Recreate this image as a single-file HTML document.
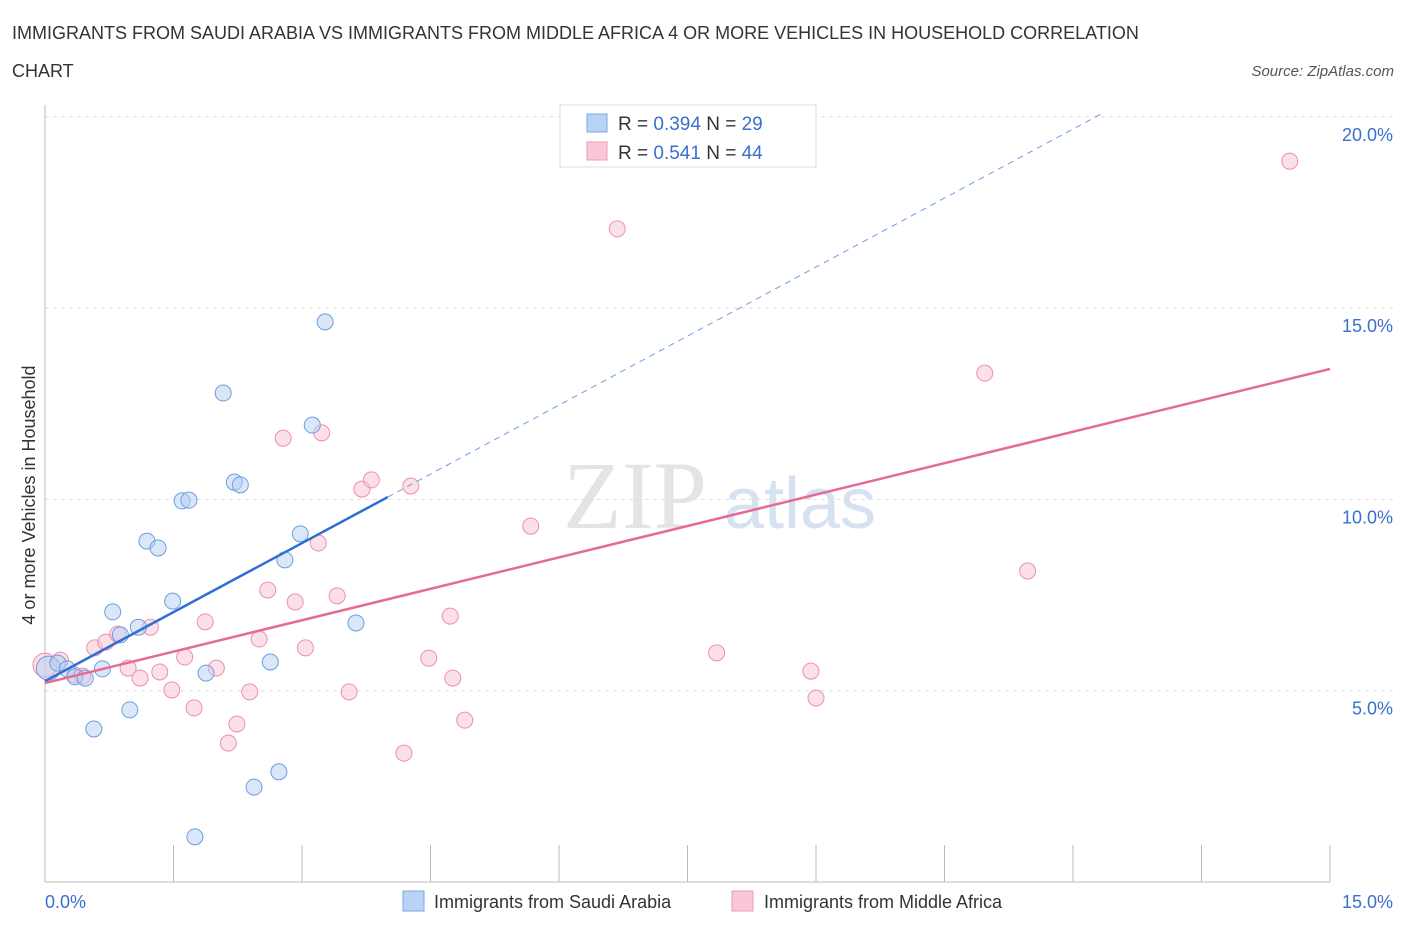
<!DOCTYPE html>
<html><head><meta charset="utf-8"><style>
body{margin:0;background:#fff;font-family:"Liberation Sans",sans-serif;}
</style></head><body>
<svg width="1406" height="930" xmlns="http://www.w3.org/2000/svg" font-family="Liberation Sans, sans-serif">
<text x="12" y="39" font-size="18" fill="#333">IMMIGRANTS FROM SAUDI ARABIA VS IMMIGRANTS FROM MIDDLE AFRICA 4 OR MORE VEHICLES IN HOUSEHOLD CORRELATION</text>
<text x="12" y="77" font-size="18" fill="#333">CHART</text>
<text x="1394" y="76" font-size="15" fill="#555" font-style="italic" text-anchor="end">Source: ZipAtlas.com</text>
<text x="635" y="528" font-size="96" fill="#e4e4e4" font-family="Liberation Serif, serif" text-anchor="middle">ZIP</text>
<text x="800" y="528" font-size="72" fill="#d6e2f2" text-anchor="middle">atlas</text>
<g id="grid"></g>
<g id="axes"></g>
<g id="marks"></g>
<text x="35" y="495" font-size="18" fill="#333" text-anchor="middle" transform="rotate(-90 35 495)">4 or more Vehicles in Household</text>
<text x="45" y="908" font-size="18" fill="#3a6fd0">0.0%</text>
<text x="1393" y="908" font-size="18" fill="#3a6fd0" text-anchor="end">15.0%</text>
<g>
<rect x="560" y="105" width="256" height="62" fill="#fff" stroke="#ddd"/>
<rect x="587" y="114" width="20" height="18" fill="#b9d3f5" stroke="#7aa6e6"/>
<rect x="587" y="142" width="20" height="18" fill="#f9c7d6" stroke="#ee9ab4"/>
<text x="618" y="130" font-size="19" fill="#333">R = <tspan fill="#3a6fd0">0.394</tspan>   N = <tspan fill="#3a6fd0">29</tspan></text>
<text x="618" y="159" font-size="19" fill="#333">R =  <tspan fill="#3a6fd0">0.541</tspan>   N = <tspan fill="#3a6fd0">44</tspan></text>
</g>
<g>
<rect x="403" y="891" width="21" height="20" fill="#b9d3f5" stroke="#7aa6e6"/>
<text x="434" y="908" font-size="18" fill="#333">Immigrants from Saudi Arabia</text>
<rect x="732" y="891" width="21" height="20" fill="#f9c7d6" stroke="#ee9ab4"/>
<text x="764" y="908" font-size="18" fill="#333">Immigrants from Middle Africa</text>
</g>
</svg>
<script>
const yTicks=[5,10,15,20];
const yTickLabels=["5.0%","10.0%","15.0%","20.0%"];
const xTicks=[0,1.5,3,4.5,6,7.5,9,10.5,12,13.5,15];
const saudiX=[0.04,0.15,0.26,0.35,0.47,0.67,0.57,0.79,0.99,1.09,0.88,1.19,1.32,1.49,1.60,1.68,1.88,2.08,2.21,2.28,2.44,2.63,2.73,2.80,2.98,3.12,3.27,3.63,1.75];
const saudiY=[5.59,5.72,5.57,5.36,5.33,5.57,4.00,7.06,4.50,6.66,6.46,8.91,8.73,7.34,9.96,9.98,5.46,12.78,10.45,10.38,2.48,5.75,2.88,8.42,9.10,11.94,14.64,6.77,1.18];
const africaX=[0,0.18,0.35,0.44,0.58,0.71,0.85,0.97,1.11,1.23,1.34,1.48,1.63,1.74,1.87,2.00,2.14,2.24,2.39,2.50,2.60,2.78,2.92,3.04,3.19,3.23,3.41,3.55,3.70,3.81,4.19,4.27,4.48,4.73,4.76,4.90,5.67,6.68,7.84,8.94,9.00,10.97,11.47,14.53];
const africaY=[5.67,5.80,5.41,5.38,6.12,6.27,6.48,5.59,5.33,6.66,5.49,5.02,5.88,4.55,6.80,5.59,3.63,4.13,4.97,6.35,7.63,11.60,7.32,6.12,8.86,11.74,7.48,4.97,10.27,10.51,3.37,10.35,5.85,6.95,5.33,4.23,9.30,17.07,5.99,5.51,4.81,13.30,8.13,18.84];
const saudiTrend=[5.25,10.06,4.00,12.32];  // intercept, y at solid end, solid end x, dashed end x
const africaTrend=[5.20,13.41];
const X=v=>45+v/15*1285, Y=v=>882-v/5*191.3;
const NS="http://www.w3.org/2000/svg";
function mk(p,t,a){const e=document.createElementNS(NS,t);for(const k in a)e.setAttribute(k,a[k]);document.getElementById(p).appendChild(e);return e;}
yTicks.forEach((t,i)=>{
 const l=mk('grid','line',{x1:45,x2:1395,y1:Y(t),y2:Y(t),stroke:'#ddd','stroke-dasharray':'4 4'});
 
 
 const tx=mk('grid','text',{x:1393,y:Y(t)+24,'font-size':18,fill:'#3a6fd0','text-anchor':'end'});
 tx.textContent=yTickLabels[i];
 
 
});
const ya=mk('axes','line',{x1:45,x2:45,y1:105,y2:882,stroke:'#bbb'});


const xa=mk('axes','line',{x1:45,x2:1330,y1:882,y2:882,stroke:'#bbb'});


xTicks.forEach(t=>{
 const l=mk('axes','line',{x1:X(t),x2:X(t),y1:845,y2:882,stroke:'#bbb'});
 
 
});
function pts(xs,ys,fill,stroke,name){xs.forEach((x,i)=>{
 const c=mk('marks','circle',{cx:X(x),cy:Y(ys[i]),r:i==0?12:8,fill:fill,'fill-opacity':0.5,stroke:stroke,'stroke-width':1});
 
 
});}
pts(africaX,africaY,'#f9c1d2','#ec90ae','point-middle-africa');
pts(saudiX,saudiY,'#b5cff3','#6d9de0','point-saudi-arabia');
const sl=saudiTrend[0], ss=(saudiTrend[1]-sl)/saudiTrend[2];
let e=mk('marks','line',{x1:X(0),y1:Y(sl),x2:X(saudiTrend[2]),y2:Y(saudiTrend[1]),stroke:'#2f6fd4','stroke-width':2.5});


e=mk('marks','line',{x1:X(saudiTrend[2]),y1:Y(saudiTrend[1]),x2:X(saudiTrend[3]),y2:Y(sl+ss*saudiTrend[3]),stroke:'#6d9de0','stroke-width':1,'stroke-dasharray':'6 5'});


e=mk('marks','line',{x1:X(0),y1:Y(africaTrend[0]),x2:X(15),y2:Y(africaTrend[1]),stroke:'#e66a95','stroke-width':2.5});


</script>
</body></html>
